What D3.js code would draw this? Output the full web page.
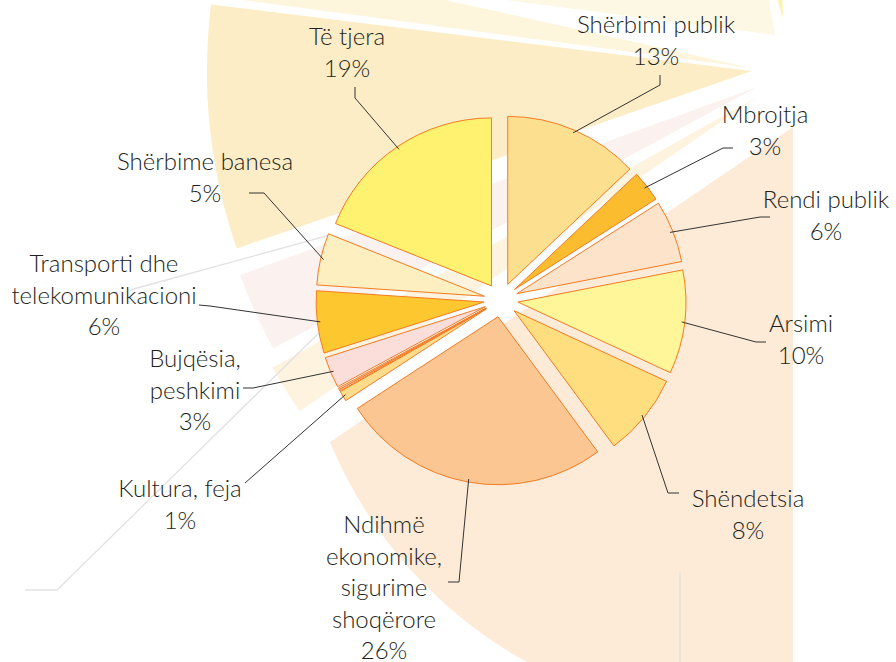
<!DOCTYPE html>
<html>
<head>
<meta charset="utf-8">
<script src="https://cdn.jsdelivr.net/npm/d3@7"></script>
<style>
  body { margin: 0; background: #fff; }
  svg { display: block; }
</style>
</head>
<body>
<div id="container"></div>
<script>
let w = 896;
let h = 662;

// DATA (clockwise from 12 o'clock)
let categories = ["Shërbimi publik", "Mbrojtja", "Rendi publik", "Arsimi", "Shëndetsia",
  "Ndihmë ekonomike, sigurime shoqërore", "Kultura, feja", "", "", "Bujqësia, peshkimi",
  "Transporti dhe telekomunikacioni", "Shërbime banesa", "Të tjera"];
let shares = [13, 3, 6, 10, 8, 26, 1, 0.15, 0.15, 3, 6, 5, 19];
let labelLines = [
  ["Shërbimi publik"], ["Mbrojtja"], ["Rendi publik"], ["Arsimi"], ["Shëndetsia"],
  ["Ndihmë", "ekonomike,", "sigurime", "shoqërore"], ["Kultura, feja"], [], [],
  ["Bujqësia,", "peshkimi"], ["Transporti dhe", "telekomunikacioni"], ["Shërbime banesa"], ["Të tjera"]
];

// styles
let fills = ["#fddf90", "#fbbd2f", "#fde3ca", "#fff599", "#fede7f", "#fbc691",
  "#fedc8c", "#fbdcd6", "#fbdcd6", "#fbdeda", "#fdc82f", "#feefc0", "#fef270"];
let cx = 501, cy = 300, r = 168, explode = 17;

// label layout: text centre x, first baseline, leader elbow and end
let labelPos = {
  0: {x: 656, y: 33, elbow: [660, 85], end: [660, 75]},
  1: {x: 765, y: 123, elbow: [723, 148], end: [733, 148]},
  2: {x: 826, y: 208, elbow: [760, 217], end: [770, 217]},
  3: {x: 801, y: 332, elbow: [756, 342], end: [766, 342]},
  4: {x: 748, y: 507, elbow: [668, 493], end: [679, 493]},
  5: {x: 384, y: 533, elbow: [459, 582], end: [448, 582]},
  6: {x: 180, y: 497, elbow: [245, 483], end: [245, 483]},
  9: {x: 195, y: 367, elbow: [253, 388], end: [243, 388]},
  10: {x: 104, y: 272, elbow: [210, 306], end: [199, 305]},
  11: {x: 205, y: 170, elbow: [264, 193], end: [249, 193]},
  12: {x: 347, y: 45, elbow: [355, 98], end: [355, 87]}
};

// background "light beam" decoration (apex, radius, angles in degrees)
let beams = [
  {apex: [775, 35], r: 700, a0: 277.4, a1: 350, fill: "#fdf8e4"},
  {apex: [752, 68], r: 600, a0: 277.6, a1: 282.5, fill: "#fdf5dc"},
  {apex: [752, 71], r: 545, a0: 251, a1: 277, fill: "#fdedc6"},
  {apex: [757, 87], r: 550, a0: 241.6, a1: 250, fill: "#fbf1ee"},
  {apex: [757, 97], r: 555, a0: 235.5, a1: 240.8, fill: "#fdf3de"},
  {apex: [783, 18], r: 30, a0: 343, a1: 358, fill: "#fdf0b2"}
];

let viz = d3.select("#container").append("svg")
  .attr("width", w)
  .attr("height", h)
  .style("background-color", "white");

let rad = Math.PI / 180;

// BACKGROUND
let beamArc = d3.arc().innerRadius(0);
viz.selectAll(".beam").data(beams).enter()
  .append("path")
  .attr("class", "beam")
  .attr("transform", d => "translate(" + d.apex[0] + "," + d.apex[1] + ")")
  .attr("d", d => beamArc({outerRadius: d.r, startAngle: d.a0 * rad, endAngle: d.a1 * rad}))
  .attr("fill", d => d.fill);

// big peach beam (lower right)
viz.append("path")
  .attr("d", "M793,127 L330,442 A445,445 0 0 0 527,662 L793,662 Z")
  .attr("fill", "#fdebd8");

// faint grey guide lines
let guides = [
  [[130, 290], [330, 235]],
  [[25, 590], [57, 590], [322, 330]],
  [[680, 572], [680, 662]]
];
viz.selectAll(".guide").data(guides).enter()
  .append("path")
  .attr("class", "guide")
  .attr("d", d3.line())
  .attr("fill", "none")
  .attr("stroke", "#e4e2e0")
  .attr("stroke-width", 1.3);

// PIE
let pie = d3.pie().sort(null).value(d => d)(shares);
let arcMaker = d3.arc().innerRadius(0).outerRadius(r);
let anchorArc = d3.arc().innerRadius(165).outerRadius(165);

function offsetOf(d) {
  let mid = (d.startAngle + d.endAngle) / 2;
  return [explode * Math.sin(mid), -explode * Math.cos(mid)];
}

let g = viz.append("g").attr("transform", "translate(" + cx + "," + cy + ")");

g.selectAll(".slice").data(pie).enter()
  .append("path")
  .attr("class", "slice")
  .attr("transform", d => { let o = offsetOf(d); return "translate(" + o[0] + "," + o[1] + ")"; })
  .attr("d", arcMaker)
  .attr("fill", (d, i) => fills[i])
  .attr("stroke", "#f47b22")
  .attr("stroke-width", 1)
  .attr("stroke-linejoin", "miter");

// LEADERS + LABELS
let labelled = pie.map((d, i) => ({d: d, i: i})).filter(e => labelPos[e.i]);

viz.selectAll(".leader").data(labelled).enter()
  .append("path")
  .attr("class", "leader")
  .attr("d", e => {
    let o = offsetOf(e.d);
    let c = anchorArc.centroid(e.d);
    let p = labelPos[e.i];
    return d3.line()([[cx + o[0] + c[0], cy + o[1] + c[1]], p.elbow, p.end]);
  })
  .attr("fill", "none")
  .attr("stroke", "#333")
  .attr("stroke-width", 1);

let lineH = 31.5;
let labels = viz.selectAll(".label").data(labelled).enter()
  .append("text")
  .attr("class", "label")
  .attr("text-anchor", "middle")
  .attr("font-family", "Lato, 'Open Sans', sans-serif")
  .attr("font-weight", 300)
  .attr("font-size", 24)
  .attr("fill", "#231f20");

labels.selectAll("tspan")
  .data(e => labelLines[e.i].concat([shares[e.i] + "%"]).map(t => ({t: t, p: labelPos[e.i]})))
  .enter()
  .append("tspan")
  .attr("x", d => d.p.x)
  .attr("y", (d, k) => d.p.y + k * lineH)
  .text(d => d.t);
</script>
</body>
</html>
